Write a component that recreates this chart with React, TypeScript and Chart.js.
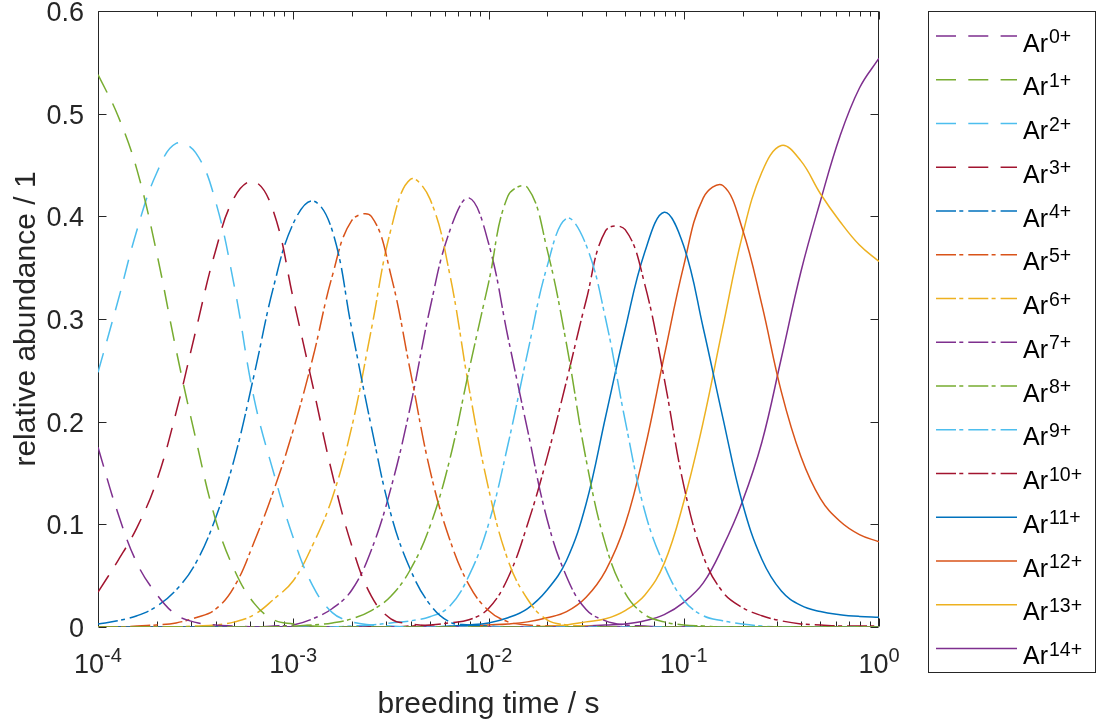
import { useEffect, useRef } from "react";
import { Chart, registerables } from "chart.js";

Chart.register(...registerables);

// Breeding time grid (s), ten samples per decade
const BREEDING_TIME_S = [
  1.0e-4, 1.259e-4, 1.585e-4, 1.995e-4, 2.512e-4, 3.162e-4, 3.981e-4, 5.012e-4, 6.31e-4, 7.943e-4,
  1.0e-3, 1.259e-3, 1.585e-3, 1.995e-3, 2.512e-3, 3.162e-3, 3.981e-3, 5.012e-3, 6.31e-3, 7.943e-3,
  1.0e-2, 1.259e-2, 1.585e-2, 1.995e-2, 2.512e-2, 3.162e-2, 3.981e-2, 5.012e-2, 6.31e-2, 7.943e-2,
  1.0e-1, 1.259e-1, 1.585e-1, 1.995e-1, 2.512e-1, 3.162e-1, 3.981e-1, 5.012e-1, 6.31e-1, 7.943e-1,
  1.0,
];

// Relative abundance of each argon charge state on the grid above
const AR_0 = [0.175, 0.112, 0.062, 0.032, 0.012, 0.0045, 0.002, 0.001, 0, 0, 0, 0, 0, 0, 0, 0, 0, 0, 0, 0, 0, 0, 0, 0, 0, 0, 0, 0, 0, 0, 0, 0, 0, 0, 0, 0, 0, 0, 0, 0, 0];
const AR_1 = [0.538, 0.499, 0.445, 0.365, 0.27, 0.184, 0.106, 0.055, 0.023, 0.007, 0.003, 0.001, 0, 0, 0, 0, 0, 0, 0, 0, 0, 0, 0, 0, 0, 0, 0, 0, 0, 0, 0, 0, 0, 0, 0, 0, 0, 0, 0, 0, 0];
const AR_2 = [0.248, 0.316, 0.387, 0.442, 0.471, 0.462, 0.416, 0.33, 0.222, 0.15, 0.087, 0.04, 0.014, 0.005, 0.002, 0.001, 0, 0, 0, 0, 0, 0, 0, 0, 0, 0, 0, 0, 0, 0, 0, 0, 0, 0, 0, 0, 0, 0, 0, 0, 0];
const AR_3 = [0.034, 0.064, 0.097, 0.142, 0.209, 0.288, 0.365, 0.419, 0.434, 0.404, 0.32, 0.235, 0.149, 0.079, 0.03, 0.008, 0.003, 0.001, 0, 0, 0, 0, 0, 0, 0, 0, 0, 0, 0, 0, 0, 0, 0, 0, 0, 0, 0, 0, 0, 0, 0];
const AR_4 = [0.003, 0.006, 0.011, 0.02, 0.036, 0.062, 0.105, 0.165, 0.246, 0.332, 0.393, 0.415, 0.386, 0.29, 0.195, 0.11, 0.056, 0.022, 0.005, 0.002, 0.001, 0, 0, 0, 0, 0, 0, 0, 0, 0, 0, 0, 0, 0, 0, 0, 0, 0, 0, 0, 0];
const AR_5 = [0, 0, 0.001, 0.002, 0.004, 0.009, 0.017, 0.04, 0.083, 0.133, 0.192, 0.262, 0.342, 0.396, 0.4, 0.343, 0.249, 0.153, 0.086, 0.041, 0.016, 0.005, 0.002, 0.001, 0, 0, 0, 0, 0, 0, 0, 0, 0, 0, 0, 0, 0, 0, 0, 0, 0];
const AR_6 = [0, 0, 0, 0, 0, 0.001, 0.002, 0.005, 0.012, 0.027, 0.045, 0.08, 0.126, 0.195, 0.29, 0.387, 0.436, 0.417, 0.345, 0.233, 0.135, 0.065, 0.027, 0.007, 0.002, 0.001, 0, 0, 0, 0, 0, 0, 0, 0, 0, 0, 0, 0, 0, 0, 0];
const AR_7 = [0, 0, 0, 0, 0, 0, 0, 0, 0, 0.001, 0.002, 0.008, 0.018, 0.036, 0.075, 0.135, 0.215, 0.31, 0.385, 0.418, 0.374, 0.282, 0.192, 0.105, 0.049, 0.017, 0.006, 0.002, 0.001, 0, 0, 0, 0, 0, 0, 0, 0, 0, 0, 0, 0];
const AR_8 = [0, 0, 0, 0, 0, 0, 0, 0, 0, 0, 0.001, 0.002, 0.004, 0.008, 0.016, 0.03, 0.056, 0.098, 0.162, 0.25, 0.335, 0.42, 0.428, 0.368, 0.275, 0.163, 0.08, 0.033, 0.012, 0.005, 0.002, 0.001, 0, 0, 0, 0, 0, 0, 0, 0, 0];
const AR_9 = [0, 0, 0, 0, 0, 0, 0, 0, 0, 0, 0, 0, 0, 0.001, 0.002, 0.004, 0.006, 0.01, 0.02, 0.05, 0.1, 0.178, 0.267, 0.351, 0.398, 0.372, 0.3, 0.201, 0.113, 0.06, 0.026, 0.011, 0.006, 0.003, 0.001, 0, 0, 0, 0, 0, 0];
const AR_10 = [0, 0, 0, 0, 0, 0, 0, 0, 0, 0, 0, 0, 0, 0, 0, 0, 0.001, 0.002, 0.004, 0.007, 0.018, 0.048, 0.1, 0.165, 0.24, 0.318, 0.386, 0.387, 0.334, 0.242, 0.138, 0.069, 0.034, 0.019, 0.011, 0.006, 0.003, 0.002, 0.001, 0.001, 0.001];
const AR_11 = [0, 0, 0, 0, 0, 0, 0, 0, 0, 0, 0, 0, 0, 0, 0, 0, 0, 0, 0.001, 0.002, 0.004, 0.009, 0.018, 0.036, 0.065, 0.12, 0.205, 0.29, 0.365, 0.404, 0.371, 0.291, 0.204, 0.121, 0.066, 0.035, 0.021, 0.015, 0.012, 0.0103, 0.0094];
const AR_12 = [0, 0, 0, 0, 0, 0, 0, 0, 0, 0, 0, 0, 0, 0, 0, 0, 0, 0, 0, 0.001, 0.002, 0.003, 0.005, 0.009, 0.015, 0.029, 0.055, 0.1, 0.173, 0.264, 0.352, 0.418, 0.43, 0.388, 0.314, 0.229, 0.166, 0.125, 0.103, 0.09, 0.083];
const AR_13 = [0, 0, 0, 0, 0, 0, 0, 0, 0, 0, 0, 0, 0, 0, 0, 0, 0, 0, 0, 0, 0, 0, 0, 0.001, 0.002, 0.005, 0.008, 0.016, 0.031, 0.062, 0.122, 0.2, 0.292, 0.381, 0.443, 0.469, 0.454, 0.422, 0.395, 0.372, 0.356];
const AR_14 = [0, 0, 0, 0, 0, 0, 0, 0, 0, 0, 0, 0, 0, 0, 0, 0, 0, 0, 0, 0, 0, 0, 0, 0, 0, 0.001, 0.002, 0.003, 0.006, 0.012, 0.024, 0.043, 0.078, 0.122, 0.18, 0.262, 0.346, 0.415, 0.478, 0.525, 0.554];

const ABUNDANCES = [AR_0, AR_1, AR_2, AR_3, AR_4, AR_5, AR_6, AR_7, AR_8, AR_9, AR_10, AR_11, AR_12, AR_13, AR_14];
const CHARGE_LABELS = ["0+", "1+", "2+", "3+", "4+", "5+", "6+", "7+", "8+", "9+", "10+", "11+", "12+", "13+", "14+"];

const BLUE = "#0072BD";
const ORANGE = "#D95319";
const YELLOW = "#EDB120";
const PURPLE = "#7E2F8E";
const GREEN = "#77AC30";
const CYAN = "#4DBEEE";
const CRIMSON = "#A2142F";
const LINE_COLORS = [PURPLE, GREEN, CYAN, CRIMSON, BLUE, ORANGE, YELLOW, PURPLE, GREEN, CYAN, CRIMSON, BLUE, ORANGE, YELLOW, PURPLE];

const DASHED = [20, 12.3];
const DASH_DOT = [20, 3.3, 4, 5];
const SOLID: number[] = [];
const LINE_DASHES = [DASHED, DASHED, DASHED, DASHED, DASH_DOT, DASH_DOT, DASH_DOT, DASH_DOT, DASH_DOT, DASH_DOT, DASH_DOT, SOLID, SOLID, SOLID, SOLID];
// green curves end up on top along the zero line
const DRAW_ORDER = [3, 0, 4, 5, 6, 7, 8, 9, 1, 10, 11, 12, 13, 14, 15];

const X_MIN = 1e-4;
const X_MAX = 1;
const Y_MIN = 0;
const Y_MAX = 0.6;
const X_TICKS = [1e-4, 1e-3, 1e-2, 1e-1, 1];
const X_TICK_EXPONENTS = ["-4", "-3", "-2", "-1", "0"];
const X_MINOR_MULTIPLIERS = [2, 3, 4, 5, 6, 7, 8, 9];
const Y_TICKS = [0, 0.1, 0.2, 0.3, 0.4, 0.5, 0.6];
const Y_TICK_LABELS = ["0", "0.1", "0.2", "0.3", "0.4", "0.5", "0.6"];
const X_TITLE = "breeding time / s";
const Y_TITLE = "relative abundance / 1";
const LEGEND_BASE = "Ar";

const W = 1096;
const H = 725;
const AREA = { left: 98, top: 11, right: 879, bottom: 627 };
const INK = "#262626";
const FONT = '"Liberation Sans", Arial, Helvetica, sans-serif';
const LINE_WIDTH = 1.5;

const frame = {
  id: "frame",
  beforeDatasetsDraw(chart: any) {
    const ctx = chart.ctx as CanvasRenderingContext2D;
    const xs = chart.scales.x;
    const ys = chart.scales.y;
    const { left, right, top, bottom } = chart.chartArea;
    const l = Math.round(left) + 0.5;
    const r = Math.round(right) - 0.5;
    const t = Math.round(top) + 0.5;
    const b = Math.round(bottom) - 0.5;
    ctx.save();
    ctx.strokeStyle = INK;
    ctx.lineWidth = 1;
    ctx.setLineDash([]);
    ctx.beginPath();
    ctx.rect(l, t, r - l, b - t);
    // x ticks, major and minor, pointing inward on both sides
    const xTick = (v: number, len: number) => {
      const px = Math.round(xs.getPixelForValue(v)) + 0.5;
      ctx.moveTo(px, b);
      ctx.lineTo(px, b - len);
      ctx.moveTo(px, t);
      ctx.lineTo(px, t + len);
    };
    X_TICKS.forEach((v) => xTick(v, 8));
    X_TICKS.slice(0, -1).forEach((d) => X_MINOR_MULTIPLIERS.forEach((m) => xTick(d * m, 5)));
    Y_TICKS.forEach((v) => {
      const py = Math.round(ys.getPixelForValue(v)) + 0.5;
      ctx.moveTo(l, py);
      ctx.lineTo(l + 8, py);
      ctx.moveTo(r, py);
      ctx.lineTo(r - 8, py);
    });
    ctx.stroke();
    ctx.restore();
  },
  afterDraw(chart: any) {
    const ctx = chart.ctx as CanvasRenderingContext2D;
    const xs = chart.scales.x;
    const ys = chart.scales.y;
    ctx.save();
    ctx.fillStyle = INK;
    ctx.setLineDash([]);

    // y tick labels
    ctx.font = `27px ${FONT}`;
    ctx.textAlign = "right";
    ctx.textBaseline = "alphabetic";
    Y_TICKS.forEach((v, i) => {
      ctx.fillText(Y_TICK_LABELS[i], 84, ys.getPixelForValue(v) + 10);
    });

    // x tick labels as 10 with a raised exponent
    X_TICKS.forEach((v, i) => {
      const px = xs.getPixelForValue(v);
      ctx.font = `27px ${FONT}`;
      const wBase = ctx.measureText("10").width;
      ctx.font = `20px ${FONT}`;
      const wExp = ctx.measureText(X_TICK_EXPONENTS[i]).width;
      const x0 = px - (wBase + wExp) / 2;
      ctx.textAlign = "left";
      ctx.font = `27px ${FONT}`;
      ctx.fillText("10", x0, 673);
      ctx.font = `20px ${FONT}`;
      ctx.fillText(X_TICK_EXPONENTS[i], x0 + wBase, 662);
    });

    // axis titles
    ctx.font = `30px ${FONT}`;
    ctx.textAlign = "center";
    ctx.fillText(X_TITLE, (AREA.left + AREA.right) / 2, 713);
    ctx.save();
    ctx.translate(35, (AREA.top + AREA.bottom) / 2);
    ctx.rotate(-Math.PI / 2);
    ctx.fillText(Y_TITLE, 0, 0);
    ctx.restore();

    // legend box
    const lx = 928.5;
    const ly = 11.5;
    ctx.fillStyle = "#ffffff";
    ctx.fillRect(lx, ly, 1095.5 - lx, 672.5 - ly);
    ctx.strokeStyle = INK;
    ctx.lineWidth = 1;
    ctx.strokeRect(lx, ly, 1095.5 - lx, 672.5 - ly);
    CHARGE_LABELS.forEach((lab, i) => {
      const y = 36 + i * 43.75;
      ctx.strokeStyle = LINE_COLORS[i];
      ctx.lineWidth = LINE_WIDTH;
      ctx.setLineDash(LINE_DASHES[i]);
      ctx.beginPath();
      ctx.moveTo(936, y);
      ctx.lineTo(1017, y);
      ctx.stroke();
      ctx.setLineDash([]);
      ctx.fillStyle = "#000000";
      ctx.textAlign = "left";
      ctx.font = `25px ${FONT}`;
      ctx.fillText(LEGEND_BASE, 1023, y + 15.5);
      const wb = ctx.measureText(LEGEND_BASE).width;
      ctx.font = `19.5px ${FONT}`;
      ctx.fillText(lab, 1023 + wb + 1, y + 7);
    });
    ctx.restore();
  },
};

export default function App() {
  const canvasRef = useRef<HTMLCanvasElement | null>(null);

  useEffect(() => {
    const canvas = canvasRef.current;
    if (!canvas) return;
    const datasets = ABUNDANCES.map((values, i) => ({
      label: `${LEGEND_BASE}${CHARGE_LABELS[i]}`,
      data: BREEDING_TIME_S.map((t, k) => ({ x: t, y: values[k] })),
      borderColor: LINE_COLORS[i],
      backgroundColor: LINE_COLORS[i],
      borderWidth: LINE_WIDTH,
      borderDash: LINE_DASHES[i],
      pointRadius: 0,
      pointHoverRadius: 0,
      tension: 0.4,
      fill: false,
      order: DRAW_ORDER[i],
    }));
    const chart = new Chart(canvas, {
      type: "line",
      data: { datasets },
      options: {
        responsive: false,
        animation: false,
        devicePixelRatio: 1,
        layout: {
          padding: { left: AREA.left, top: AREA.top, right: W - AREA.right, bottom: H - AREA.bottom },
        },
        scales: {
          x: { type: "logarithmic", min: X_MIN, max: X_MAX, display: false },
          y: { type: "linear", min: Y_MIN, max: Y_MAX, display: false },
        },
        plugins: { legend: { display: false }, tooltip: { enabled: false } },
        events: [],
      },
      plugins: [frame],
    });
    return () => chart.destroy();
  }, []);

  return (
    <div style={{ position: "absolute", left: 0, top: 0, width: W, height: H, background: "#ffffff" }}>
      <canvas ref={canvasRef} width={W} height={H} />
    </div>
  );
}
